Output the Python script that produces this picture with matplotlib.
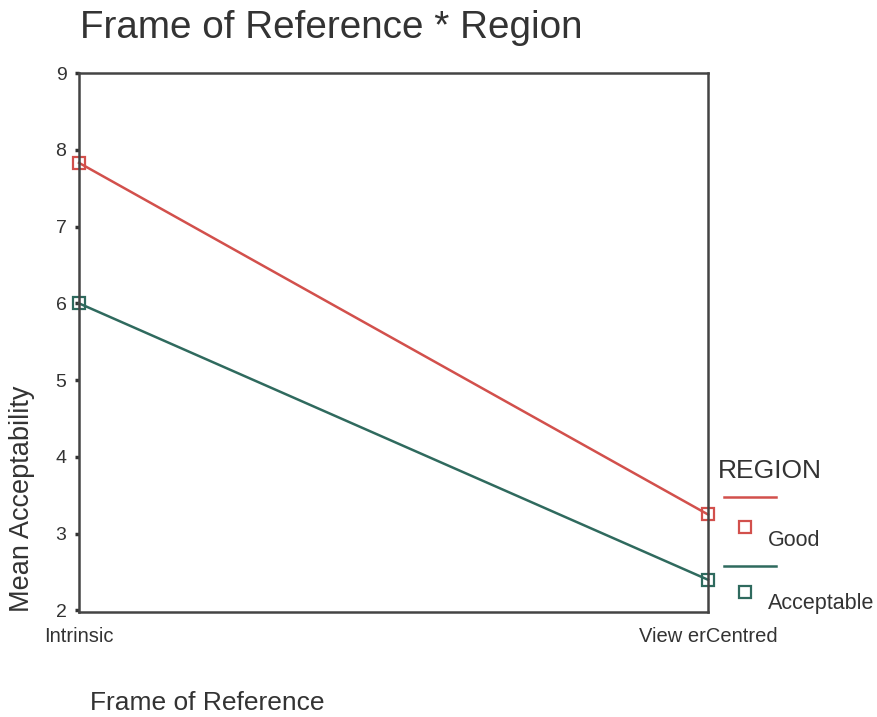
import numpy as np
import matplotlib
matplotlib.use("Agg")
import matplotlib.pyplot as plt
from matplotlib.lines import Line2D

plt.rcParams['font.family'] = ['Liberation Sans', 'DejaVu Sans']

frames = ['Intrinsic', 'View erCentred']
regions = ['Good', 'Acceptable']
good = [7.83, 3.25]
acceptable = [6.0, 2.4]
colors = ['#d2504c', '#2f6a5e']
yticks = [2, 3, 4, 5, 6, 7, 8, 9]

W, H = 877, 717
fig = plt.figure(figsize=(W / 100, H / 100), dpi=100)
ax = fig.add_axes([79 / W, 1 - 612 / H, (708 - 79) / W, (612 - 73) / H])

x = np.arange(len(frames))
for vals, c, lab in zip([good, acceptable], colors, regions):
    ax.plot(x, vals, color=c, lw=1.8, marker='s', ms=9, mfc='none',
            mec=c, mew=1.6, clip_on=False, label=lab)

ax.set_xlim(0, 1)
ax.set_ylim(1.98, 9)
ax.set_yticks(yticks)
ax.set_yticklabels([str(t) for t in yticks], fontsize=14, color='#333333')
ax.set_xticks(x)
ax.set_xticklabels(frames, fontsize=14.5, color='#333333')
ax.tick_params(axis='y', length=3, width=2.5, color='#333333', pad=6)
ax.tick_params(axis='x', length=0, pad=11)
for s in ax.spines.values():
    s.set_color('#444444')
    s.set_linewidth(1.8)

fig.text(22 / W, 1 - 612 / H, 'Mean Acceptability', fontsize=19.5,
         color='#333333', rotation=90, ha='center', va='bottom')
fig.text(80 / W, 1 - 28 / H, 'Frame of Reference * Region', fontsize=27.8,
         color='#333333', ha='left', va='center')
fig.text(90 / W, 1 - 703 / H, 'Frame of Reference', fontsize=19,
         color='#333333', ha='left', va='center')

# legend drawn by hand in figure pixels
fig.text(718 / W, 1 - 471 / H, 'REGION', fontsize=19, color='#333333',
         ha='left', va='center')
rows = [(497, 527, 541), (566, 592, 604)]
for (ly, my, ty), c, lab in zip(rows, colors, regions):
    fig.add_artist(Line2D([724 / W, 776 / W], [1 - ly / H, 1 - ly / H],
                          color=c, lw=1.8, transform=fig.transFigure))
    fig.add_artist(Line2D([745 / W], [1 - my / H], marker='s', ms=9,
                          mfc='none', mec=c, mew=1.6, ls='none',
                          transform=fig.transFigure))
    fig.text(768 / W, 1 - ty / H, lab, fontsize=15.5, color='#333333',
             ha='left', va='center')

fig.savefig('out.png', dpi=100, facecolor='white')
